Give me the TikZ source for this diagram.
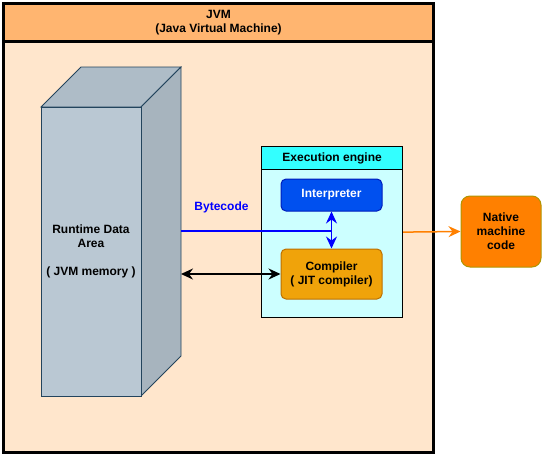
\documentclass[tikz,border=0pt]{standalone}
\usepackage{fontspec}
\setmainfont{Liberation Sans}
\usetikzlibrary{arrows.meta, positioning}

\definecolor{jvmbody}{HTML}{FFE6CC}
\definecolor{jvmhead}{HTML}{FFB570}
\definecolor{memfront}{HTML}{BAC8D3}
\definecolor{memtop}{HTML}{AEBCC7}
\definecolor{memside}{HTML}{A7B4BE}
\definecolor{memline}{HTML}{23445D}
\definecolor{enghead}{HTML}{33FFFF}
\definecolor{engbody}{HTML}{CCFFFF}
\definecolor{interpfill}{HTML}{0050EF}
\definecolor{interpline}{HTML}{001DBC}
\definecolor{compfill}{HTML}{F0A30A}
\definecolor{compline}{HTML}{BD7000}
\definecolor{nativefill}{HTML}{FF8000}
\definecolor{nativeline}{HTML}{B09500}
\definecolor{bytecol}{HTML}{0000FF}
\definecolor{outcol}{HTML}{FF8000}

\tikzset{
  lbl/.style={font=\bfseries\fontsize{12}{14}\selectfont, align=center},
  box/.style={draw, rounded corners=5pt, line width=1pt, lbl, inner sep=0pt},
  frame/.style={draw, line width=1.2pt, inner sep=0pt, anchor=north west},
  >={Stealth[length=12pt,width=11pt,inset=4pt]}
}

\begin{document}
\begin{tikzpicture}[x=1pt, y=-1pt]
\useasboundingbox (0,0) rectangle (543,453);

% JVM container
\node[frame, line width=3pt, fill=jvmbody, minimum width=430pt, minimum height=449pt] (jvm) at (2,2) {};
\node[frame, line width=3pt, fill=jvmhead, minimum width=430pt, minimum height=38pt] (jvmhead) at (2,2) {};
\node[lbl] at (jvmhead.center) {JVM\\(Java Virtual Machine)};

% Runtime data area (cuboid)
\filldraw[memline, fill=memtop, line width=0.8pt] (41,107) -- (81,67) -- (181,67) -- (141,107) -- cycle;
\filldraw[memline, fill=memside, line width=0.8pt] (141,107) -- (181,67) -- (181,356) -- (141,396) -- cycle;
\filldraw[memline, fill=memfront, line width=0.8pt] (41,107) rectangle (141,396);
\node[lbl] (rda) at (91,251) {Runtime Data\\Area\\[14pt]( JVM memory )};
\coordinate (bcin) at (181,231);
\coordinate (memio) at (181,274);

% Execution engine
\node[frame, fill=engbody, minimum width=141pt, minimum height=171pt] (exec) at (261,146) {};
\node[frame, fill=enghead, minimum width=141pt, minimum height=23pt, lbl] (exechead) at (261,146) {Execution engine};

\node[box, draw=interpline, fill=interpfill, text=white, minimum width=101pt, minimum height=32pt] (interp) at (331.5,195) {Interpreter};
\node[box, draw=compline, fill=compfill, minimum width=101pt, minimum height=50pt] (comp) at (331.5,274) {Compiler\\( JIT compiler)};

% Native code
\node[box, rounded corners=9pt, draw=nativeline, fill=nativefill, minimum width=80pt, minimum height=71pt] (native) at (501,231.5) {Native\\machine\\code};

% Connectors
\draw[bytecol, line width=1.4pt] (bcin) -- (bcin -| interp.south);
\node[lbl, text=bytecol] (bclabel) at (221.5,207) {Bytecode};
\draw[bytecol, line width=1.5pt, <->] (interp.south) -- (comp.north);
\draw[black, line width=1.5pt, <->] (memio) -- (comp.west);
\draw[outcol, line width=1.5pt, ->] (exec.east) -- (native.west);
\end{tikzpicture}
\end{document}
